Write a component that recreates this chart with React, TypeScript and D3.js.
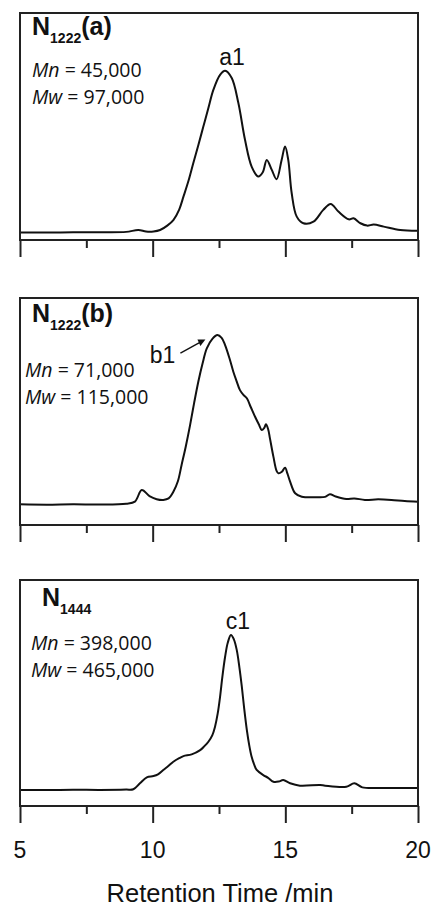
import React, { useRef, useEffect } from "react";
import * as d3 from "d3";

// retention time (min) and detector response (a.u., peak = 100) for each sample
const timeA = [5, 6, 7, 8, 9, 9.46, 9.75, 10.03, 10.28, 10.55, 10.78, 11.0, 11.16, 11.35, 11.53, 11.72, 11.91, 12.1, 12.29, 12.54, 12.73, 12.98, 13.23, 13.48, 13.73, 13.98, 14.15, 14.3, 14.49, 14.67, 14.86, 14.99, 15.11, 15.24, 15.43, 15.68, 16.06, 16.43, 16.71, 17.0, 17.39, 17.57, 17.83, 18.08, 18.33, 18.71, 19.33, 20];
const signalA = [4.5, 4.4, 4.6, 4.6, 4.8, 5.9, 5.0, 5.0, 5.9, 8.5, 11.8, 18, 25.6, 35, 45.4, 56, 67, 78, 88.8, 97.6, 100, 95.7, 80.9, 59.2, 43.4, 37.5, 40, 47.3, 41.4, 35.9, 47.3, 55.2, 47.3, 27.6, 13.8, 9.9, 10.8, 17.8, 21.3, 16.8, 12.2, 12.8, 9.9, 8.5, 9.1, 7.9, 5.9, 5.5];

const timeB = [5, 6, 7, 8, 9, 9.33, 9.59, 9.88, 10.15, 10.4, 10.6, 10.78, 10.95, 11.09, 11.25, 11.41, 11.56, 11.72, 11.88, 12.04, 12.25, 12.44, 12.6, 12.73, 12.9, 13.04, 13.17, 13.29, 13.42, 13.55, 13.7, 13.86, 14.0, 14.11, 14.2, 14.27, 14.35, 14.42, 14.55, 14.67, 14.74, 14.87, 14.99, 15.08, 15.18, 15.37, 15.62, 16.18, 16.5, 16.68, 16.9, 17.3, 17.6, 18.0, 18.5, 19.0, 19.5, 20];
const signalB = [10.9, 10.7, 10.9, 10.8, 11.2, 12.3, 18.4, 15.2, 13.6, 13.2, 14, 17.5, 23, 31.6, 41.5, 52.6, 64, 75.4, 85, 93, 98, 100, 98.5, 94.7, 87.5, 80.7, 75.5, 71, 68.5, 66.7, 62, 57, 53, 50, 51, 53, 50.5, 45.6, 36, 28.5, 27.2, 28, 30.2, 27, 22.8, 16.7, 14.9, 14.6, 14.8, 16.2, 15, 13.7, 14, 13.2, 13.5, 13.2, 12.6, 12.3];

const timeC = [5, 6, 7, 8, 9, 9.27, 9.52, 9.78, 10.03, 10.2, 10.4, 10.6, 10.78, 11.0, 11.16, 11.47, 11.79, 11.95, 12.1, 12.25, 12.35, 12.45, 12.54, 12.63, 12.73, 12.83, 12.95, 13.06, 13.17, 13.27, 13.36, 13.45, 13.55, 13.64, 13.73, 13.82, 13.92, 14.17, 14.35, 14.55, 14.75, 14.92, 15.18, 15.55, 16.31, 16.5, 17.3, 17.6, 17.9, 18.5, 19.2, 20];
const signalC = [9.4, 9.3, 9.5, 9.4, 9.6, 9.8, 13.3, 16.8, 17.5, 18.5, 21.1, 23.5, 25.9, 28, 29.2, 30.2, 32.7, 35, 37.6, 41.5, 46.4, 54, 63.9, 76, 87.3, 95.5, 100, 97.5, 91.2, 81, 69.8, 57, 44.4, 35.5, 28.8, 24.5, 21.1, 18.1, 16.5, 14.2, 14.3, 15.2, 13.3, 11.9, 12.3, 11.9, 11.3, 13.3, 10.9, 10.5, 10.6, 10.5];

const majorTicks = [5, 10, 15, 20];
const minorTicks = [7.5, 12.5, 17.5];

const sampleNames = ["1222", "1222", "1444"];
const sampleSuffix = ["(a)", "(b)", ""];
const mnLabels = ["45,000", "71,000", "398,000"];
const mwLabels = ["97,000", "115,000", "465,000"];
const peakNames = ["a1", "b1", "c1"];
const peakTimes = [12.73, 12.44, 12.95];

export default function App() {
  const ref = useRef<SVGSVGElement>(null);

  useEffect(() => {
    const width = 433;
    const height = 908;
    const svg = d3.select(ref.current);
    svg.selectAll("*").remove();
    svg.attr("width", width).attr("height", height);

    const x = d3.scaleLinear().domain([5, 20]).range([20, 418]);

    const panels = [
      { top: 13, bottom: 240, yMax: 134.1, t: timeA, s: signalA, nx: 32, ny: 35, mx: 32, my: 77 },
      { top: 298, bottom: 525, yMax: 119.5, t: timeB, s: signalB, nx: 32, ny: 322, mx: 25, my: 377 },
      { top: 580, bottom: 806, yMax: 132.2, t: timeC, s: signalC, nx: 42, ny: 606, mx: 31, my: 650 },
    ];

    panels.forEach((p, i) => {
      const y = d3.scaleLinear().domain([0, p.yMax]).range([p.bottom, p.top]);
      const g = svg.append("g");

      // trace
      const pts = p.t.map((t, k) => [t, p.s[k]] as [number, number]);
      const line = d3.line<[number, number]>()
        .x(d => x(d[0]))
        .y(d => y(d[1]))
        .curve(d3.curveCatmullRom.alpha(0.5));
      g.append("path")
        .attr("d", line(pts))
        .attr("fill", "none")
        .attr("stroke", "#111")
        .attr("stroke-width", 2)
        .attr("stroke-linejoin", "round");

      // frame
      g.append("rect")
        .attr("x", x(5)).attr("y", p.top)
        .attr("width", x(20) - x(5)).attr("height", p.bottom - p.top)
        .attr("fill", "none").attr("stroke", "#222").attr("stroke-width", 2);

      // ticks
      const major = g.append("g")
        .attr("transform", `translate(0,${p.bottom})`)
        .call(d3.axisBottom(x).tickValues(majorTicks).tickSize(17).tickFormat(() => ""));
      const minor = g.append("g")
        .attr("transform", `translate(0,${p.bottom})`)
        .call(d3.axisBottom(x).tickValues(minorTicks).tickSize(8).tickFormat(() => ""));
      [major, minor].forEach(a => {
        a.select(".domain").remove();
        a.selectAll("line").attr("stroke", "#222").attr("stroke-width", 2);
      });

      // sample name
      const title = g.append("text")
        .attr("x", p.nx).attr("y", p.ny)
        .attr("font-family", "Liberation Sans, Arial, sans-serif")
        .attr("font-weight", "bold")
        .attr("font-size", 25)
        .attr("fill", "#111");
      title.append("tspan").text("N");
      title.append("tspan").attr("font-size", 14).attr("dy", 8).text(sampleNames[i]);
      if (sampleSuffix[i]) title.append("tspan").attr("dy", -8).text(sampleSuffix[i]);

      // molecular weights
      [["Mn", mnLabels[i]], ["Mw", mwLabels[i]]].forEach(([k, v], j) => {
        const tx = g.append("text")
          .attr("x", p.mx).attr("y", p.my + j * 26.5)
          .attr("font-family", "Open Sans, sans-serif")
          .attr("font-size", 19.5)
          .attr("fill", "#111");
        tx.append("tspan").attr("font-style", "italic").text(k);
        tx.append("tspan").text(" = " + v);
      });

      // peak label
      const px = x(peakTimes[i]);
      const py = y(100);
      if (i === 1) {
        g.append("text")
          .attr("x", px - 42).attr("y", py + 28)
          .attr("text-anchor", "end")
          .attr("font-family", "Liberation Sans, Arial, sans-serif")
          .attr("font-size", 23)
          .attr("fill", "#111")
          .text(peakNames[i]);
        g.append("line")
          .attr("x1", px - 37).attr("y1", py + 18)
          .attr("x2", px - 17).attr("y2", py + 7)
          .attr("stroke", "#111").attr("stroke-width", 1.4);
        g.append("path")
          .attr("d", d3.line()([[px - 12, py + 4.5], [px - 20, py + 4.5], [px - 17, py + 11]]))
          .attr("fill", "#111");
      } else {
        g.append("text")
          .attr("x", px + 7).attr("y", py - 6)
          .attr("text-anchor", "middle")
          .attr("font-family", "Liberation Sans, Arial, sans-serif")
          .attr("font-size", 23)
          .attr("fill", "#111")
          .text(peakNames[i]);
      }
    });

    // x tick labels and title under the last panel
    svg.append("g")
      .selectAll("text")
      .data(majorTicks)
      .enter()
      .append("text")
      .attr("x", d => x(d))
      .attr("y", 858)
      .attr("text-anchor", "middle")
      .attr("font-family", "Liberation Sans, Arial, sans-serif")
      .attr("font-size", 23)
      .attr("fill", "#111")
      .text(d => d);

    svg.append("text")
      .attr("x", x(12.5) + 1)
      .attr("y", 902)
      .attr("text-anchor", "middle")
      .attr("font-family", "Liberation Sans, Arial, sans-serif")
      .attr("font-size", 25.5)
      .attr("fill", "#111")
      .text("Retention Time /min");
  }, []);

  return (
    <div style={{ position: "absolute", left: 0, top: 0, background: "#fff" }}>
      <svg ref={ref} style={{ display: "block" }}></svg>
    </div>
  );
}
